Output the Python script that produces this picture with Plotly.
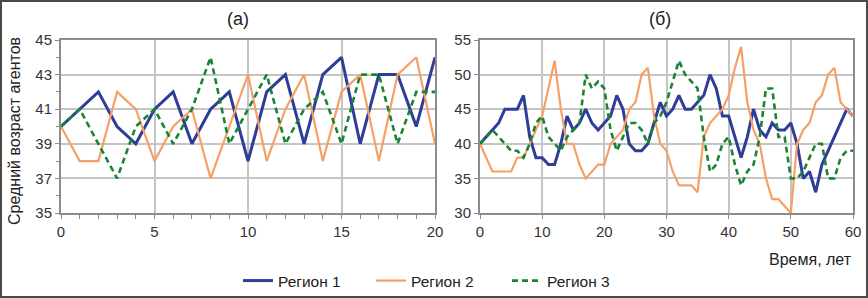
import plotly.graph_objects as go
from plotly.subplots import make_subplots

# ---- data ----
years_a = list(range(0, 21))
region1_a = [40, 41, 42, 40, 39, 41, 42, 39, 41, 42, 38, 42, 43, 39, 43, 44, 39, 43, 43, 40, 44]
region2_a = [40, 38, 38, 42, 41, 38, 40, 41, 37, 40, 43, 38, 41, 43, 38, 42, 43, 38, 43, 44, 39]
region3_a = [40, 41, 39, 37, 40, 41, 39, 41, 44, 39, 41, 43, 39, 41, 42, 39, 43, 43, 39, 42, 42]

years_b = list(range(0, 61))
region1_b = [40, 41, 42, 43, 45, 45, 45, 47, 41, 38, 38, 37, 37, 40, 44, 42, 43, 45, 43, 42,
             43, 44, 47, 45, 40, 39, 39, 40, 43, 46, 44, 45, 47, 45, 45, 46, 47, 50, 48, 44,
             44, 41, 38, 41, 45, 42, 41, 43, 42, 42, 43, 40, 35, 36, 33, 37, 39, 41, 43, 45, 44]
region2_b = [40, 38, 36, 36, 36, 36, 38, 38, 40, 42, 44, 48, 52, 45, 40, 40, 37, 35, 36, 37,
             37, 40, 41, 42, 45, 46, 50, 51, 44, 40, 39, 36, 34, 34, 34, 33, 41, 43, 44, 45,
             47, 51, 54, 46, 42, 40, 35, 32, 32, 31, 30, 40, 42, 43, 46, 47, 50, 51, 46, 45, 44]
region3_b = [40, 41, 42, 41, 40, 39, 39, 38, 40, 43, 44, 41, 40, 39, 41, 42, 43, 50, 48, 49,
             48, 42, 39, 41, 43, 43, 42, 40, 43, 44, 46, 49, 52, 50, 49, 48, 41, 36, 37, 40,
             41, 37, 34, 36, 37, 41, 48, 48, 41, 41, 35, 35, 36, 38, 40, 40, 35, 35, 38, 39, 39]

names = ["Регион 1", "Регион 2", "Регион 3"]
titles = ["(а)", "(б)"]
ytitle = "Средний возраст агентов"
xtitle = "Время, лет"

colors = ["#2e3d98", "#f7a066", "#1b8434"]
widths = [3, 2.2, 2.6]
dashes = ["solid", "solid", "6px,4px"]
legend_ids = ["legend", "legend2", "legend3"]
legend_px = [238, 371, 507]

W, H = 868, 298
FONT = "Liberation Sans, Arial"

def fx(p):
    return p / W

def fy(p):
    return (H - p) / H

fig = make_subplots(rows=1, cols=2)

for i, (ya, yb) in enumerate(zip([region1_a, region2_a, region3_a], [region1_b, region2_b, region3_b])):
    line = dict(color=colors[i], width=widths[i], dash=dashes[i])
    fig.add_trace(go.Scatter(x=years_a, y=ya, mode="lines", name=names[i], line=line,
                             showlegend=True, legend=legend_ids[i]), row=1, col=1)
    fig.add_trace(go.Scatter(x=years_b, y=yb, mode="lines", name=names[i], line=line,
                             showlegend=False), row=1, col=2)

axis_common = dict(showgrid=True, gridcolor="#c4c4c4", gridwidth=1.5,
                   showline=True, linecolor="#8c8c8c", linewidth=2, mirror=True,
                   ticks="outside", ticklen=4, tickcolor="#8c8c8c",
                   tickfont=dict(family=FONT, size=15, color="#333"),
                   zeroline=False, automargin=False)

ydom = [fy(213), fy(40)]
fig.update_layout(
    xaxis=dict(domain=[fx(61), fx(435)], range=[0, 20], tick0=0, dtick=5,
               minor=dict(dtick=1, ticks="outside", ticklen=4, tickcolor="#8c8c8c", showgrid=False),
               **axis_common),
    yaxis=dict(domain=ydom, range=[35, 45], tick0=35, dtick=2,
               minor=dict(tick0=35, dtick=1, ticks="outside", ticklen=3, tickcolor="#8c8c8c", showgrid=False),
               **axis_common),
    xaxis2=dict(domain=[fx(480), fx(853)], range=[0, 60], dtick=10, **axis_common),
    yaxis2=dict(domain=ydom, range=[30, 55], dtick=5, **axis_common),
)

ann_font = dict(family=FONT, color="#222")
common_ann = dict(xref="paper", yref="paper", showarrow=False, yanchor="middle")
fig.add_annotation(text=titles[0], x=fx(238), y=fy(19), xanchor="center",
                   font=dict(size=18, **ann_font), **common_ann)
fig.add_annotation(text=titles[1], x=fx(660), y=fy(19), xanchor="center",
                   font=dict(size=18, **ann_font), **common_ann)
fig.add_annotation(text=ytitle, x=fx(14), y=fy(131), xanchor="center", textangle=-90,
                   font=dict(size=16, **ann_font), **common_ann)
fig.add_annotation(text=xtitle, x=fx(854), y=fy(259), xanchor="right",
                   font=dict(size=16, **ann_font), **common_ann)

# outer frame
fig.add_shape(type="rect", xref="paper", yref="paper",
              x0=fx(1), x1=fx(W - 1), y0=fy(H - 1), y1=fy(1),
              line=dict(color="#4a4a4a", width=2), layer="above")

legend_common = dict(orientation="h", xanchor="left", yanchor="middle", y=fy(281),
                     font=dict(size=15.5, family=FONT, color="#222"), itemwidth=30,
                     bgcolor="rgba(0,0,0,0)")
fig.update_layout(
    width=W, height=H,
    margin=dict(l=0, r=0, t=0, b=0, pad=0),
    paper_bgcolor="white", plot_bgcolor="white",
    font=dict(family=FONT, size=15, color="#222"),
    legend=dict(x=fx(legend_px[0]), **legend_common),
    legend2=dict(x=fx(legend_px[1]), **legend_common),
    legend3=dict(x=fx(legend_px[2]), **legend_common),
)

fig.write_html("out.html", config={"displayModeBar": False},
               post_script="document.body.style.margin='0';document.body.style.overflow='hidden';")
